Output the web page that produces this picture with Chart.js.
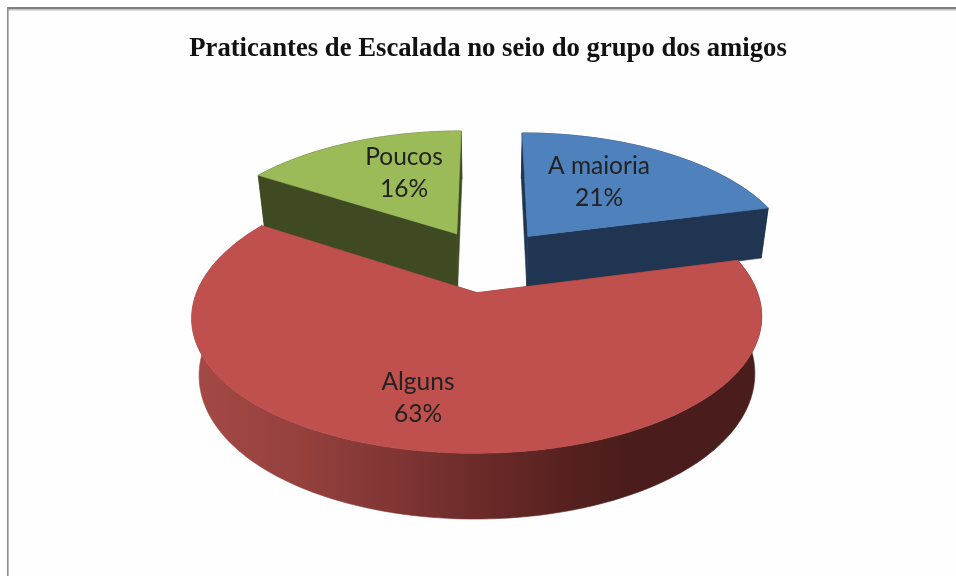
<!DOCTYPE html>
<html><head><meta charset="utf-8">
<style>html,body{margin:0;padding:0;background:#fff}#w{width:956px;height:576px;position:relative}canvas{display:block;filter:blur(0.4px)}</style>
<script src="https://cdn.jsdelivr.net/npm/chart.js@4/dist/chart.umd.min.js"></script>
</head><body><div id="w"><canvas id="c" width="956" height="576"></canvas></div>
<script>
const chartTitle = 'Praticantes de Escalada no seio do grupo dos amigos';
const categories = ['A maioria', 'Alguns', 'Poucos'];
const shares = [21, 63, 16];
const topColors = ['#4f81bd', '#c0504d', '#9bbb59'];
const wallColors = ['#1f3552', null, '#3f4a22'];
const wallDepth = [1, 1, 1.07];
const drawOrder = [2, 0, 1];
const labelSpots = [[599, 182], [418, 398], [404, 173]];

const view = {kx: 0.17, ky: 0.15, explode: 0.25, sx: 1.347, sy: 0.63, h: 0.268, taper: 0.025};

const pie3d = {
  id: 'pie3d',
  beforeDraw(chart) {
    const c = chart.ctx;
    c.save();
    c.fillStyle = '#fefefe'; c.fillRect(0, 0, 956, 576);
    c.fillStyle = '#808080'; c.fillRect(7, 7, 949, 2.5);
    c.fillStyle = '#c4c4c4'; c.fillRect(7, 9.5, 949, 1);
    c.fillStyle = '#8c8c8c'; c.fillRect(7, 7, 1.6, 569);
    c.restore();
  },
  beforeDatasetsDraw(chart) {
    const c = chart.ctx, arcs = chart.getDatasetMeta(0).data;
    const a0 = arcs[0], R = a0.outerRadius;
    const S = R * view.sx, A = R * view.sy, H = R * view.h;
    const P = (u, v, z) => {
      const wx = 1 + view.kx * v, wy = 1 + view.ky * v;
      return [a0.x + S * u / wx * (1 - view.taper * z), a0.y - A * v / wy + H * z / wy];
    };
    const poly = (pts, fill) => {
      c.beginPath();
      pts.forEach((p, i) => i ? c.lineTo(p[0], p[1]) : c.moveTo(p[0], p[1]));
      c.closePath();
      c.fillStyle = fill; c.fill();
      c.strokeStyle = fill; c.lineWidth = 0.6; c.stroke();
    };
    c.save();
    drawOrder.forEach(i => {
      const a = arcs[i];
      const mid = (a.startAngle + a.endAngle) / 2;
      const ou = Math.cos(mid) * view.explode, ov = -Math.sin(mid) * view.explode;
      const n = 160, rimAngles = [];
      for (let j = 0; j <= n; j++) rimAngles.push(a.startAngle + (a.endAngle - a.startAngle) * j / n);
      const rim = z => rimAngles.map(t => P(ou + Math.cos(t), ov - Math.sin(t), z));
      const apex = z => P(ou, ov, z);
      const wall = wallColors[i] || (() => {
        const g = c.createLinearGradient(196, 0, 760, 0);
        [[0, '#a44845'], [0.18, '#95413e'], [0.36, '#7f3533'], [0.5, '#6b2b29'],
         [0.66, '#56211f'], [0.76, '#4a1d1c'], [1, '#4a1d1c']].forEach(s => g.addColorStop(s[0], s[1]));
        return g;
      })();
      const d = wallDepth[i];
      const t = rim(0), b = rim(d);
      poly([apex(0), t[0], b[0], apex(d)], wall);
      poly([apex(0), t[n], b[n], apex(d)], wall);
      poly(t.concat(b.slice().reverse()), wall);
      poly([apex(0)].concat(t), topColors[i]);
    });
    c.restore();
    return false;
  },
  afterDraw(chart) {
    const c = chart.ctx, total = shares.reduce((s, x) => s + x, 0);
    c.save();
    c.font = '24.5px Lato';
    c.fillStyle = '#222';
    c.textAlign = 'center'; c.textBaseline = 'middle';
    categories.forEach((name, i) => {
      const [x, y] = labelSpots[i];
      c.fillText(name, x, y - 16);
      c.fillText(Math.round(shares[i] / total * 100) + '%', x, y + 16);
    });
    c.restore();
  }
};

new Chart(document.getElementById('c'), {
  type: 'pie',
  data: {labels: categories, datasets: [{data: shares, backgroundColor: topColors, borderWidth: 0}]},
  options: {
    responsive: false,
    animation: false,
    layout: {padding: {left: 20, right: 0, top: 0, bottom: 116}},
    plugins: {
      legend: {display: false},
      tooltip: {enabled: false},
      title: {display: true, text: chartTitle, color: '#111',
        font: {family: '"Liberation Serif"', size: 26.7, weight: 'bold'},
        padding: {top: 33, bottom: -4}}
    }
  },
  plugins: [pie3d]
});
</script></body></html>
